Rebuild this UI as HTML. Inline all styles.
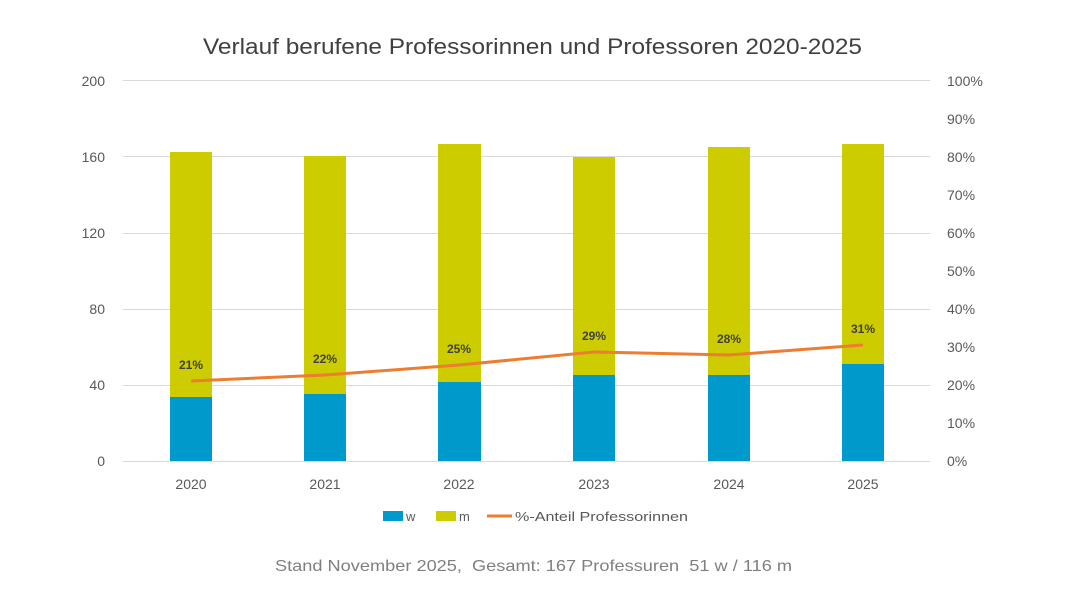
<!DOCTYPE html>
<html><head><meta charset="utf-8"><style>
body{margin:0;background:#fff;}
svg{display:block;font-family:"Liberation Sans",sans-serif;}
</style></head><body>
<svg width="1067" height="600" viewBox="0 0 1067 600">
<rect width="1067" height="600" fill="#fff"/>
<text x="203" y="54" font-size="22" fill="#404040" textLength="659" lengthAdjust="spacingAndGlyphs">Verlauf  berufene Professorinnen und Professoren 2020-2025</text>
<g stroke="#d9d9d9" stroke-width="1">
<line x1="123" x2="930" y1="80.5" y2="80.5"/>
<line x1="123" x2="930" y1="156.5" y2="156.5"/>
<line x1="123" x2="930" y1="233.5" y2="233.5"/>
<line x1="123" x2="930" y1="309.5" y2="309.5"/>
<line x1="123" x2="930" y1="385.5" y2="385.5"/>
<line x1="123" x2="930" y1="461.5" y2="461.5"/>
</g>
<g font-size="14" fill="#595959" text-anchor="end">
<text x="105" y="86">200</text><text x="105" y="162">160</text><text x="105" y="238">120</text>
<text x="105" y="314">80</text><text x="105" y="390">40</text><text x="105" y="466">0</text>
</g>
<g font-size="14" fill="#595959" text-anchor="start">
<text x="947" y="86">100%</text><text x="947" y="124">90%</text><text x="947" y="162">80%</text>
<text x="947" y="200">70%</text><text x="947" y="238">60%</text><text x="947" y="276">50%</text>
<text x="947" y="314">40%</text><text x="947" y="352">30%</text><text x="947" y="390">20%</text>
<text x="947" y="428">10%</text><text x="947" y="466">0%</text>
</g>
<g fill="#cccc00">
<rect x="170" y="152" width="42" height="245"/>
<rect x="304" y="156" width="42" height="238"/>
<rect x="438" y="144" width="43" height="238"/>
<rect x="573" y="157" width="42" height="218"/>
<rect x="708" y="147" width="42" height="228"/>
<rect x="842" y="144" width="42" height="220"/>
</g>
<g fill="#0099cc">
<rect x="170" y="397" width="42" height="64"/>
<rect x="304" y="394" width="42" height="67"/>
<rect x="438" y="382" width="43" height="79"/>
<rect x="573" y="375" width="42" height="86"/>
<rect x="708" y="375" width="42" height="86"/>
<rect x="842" y="364" width="42" height="97"/>
</g>
<polyline fill="none" stroke="#ed7d31" stroke-width="3" points="191,381 325,375 459,365 594,352 729,355 863,345"/>
<g font-size="12" font-weight="bold" fill="#404040" text-anchor="middle">
<text x="191" y="369">21%</text><text x="325" y="363">22%</text><text x="459" y="353">25%</text>
<text x="594" y="340">29%</text><text x="729" y="343">28%</text><text x="863" y="333">31%</text>
</g>
<g font-size="14" fill="#595959" text-anchor="middle">
<text x="191" y="489">2020</text><text x="325" y="489">2021</text><text x="459" y="489">2022</text>
<text x="594" y="489">2023</text><text x="729" y="489">2024</text><text x="863" y="489">2025</text>
</g>
<rect x="383" y="511" width="20" height="10" fill="#0099cc"/>
<text x="406" y="521" font-size="13" fill="#595959">w</text>
<rect x="436" y="511" width="20" height="10" fill="#cccc00"/>
<text x="459" y="521" font-size="13" fill="#595959">m</text>
<line x1="487" x2="512" y1="516" y2="516" stroke="#ed7d31" stroke-width="3"/>
<text x="515" y="521" font-size="13" fill="#595959" textLength="173" lengthAdjust="spacingAndGlyphs">%-Anteil Professorinnen</text>
<text x="275" y="571" font-size="16" fill="#7f7f7f" xml:space="preserve" textLength="517" lengthAdjust="spacingAndGlyphs">Stand November 2025,  Gesamt: 167 Professuren  51 w / 116 m</text>
</svg>
</body></html>
